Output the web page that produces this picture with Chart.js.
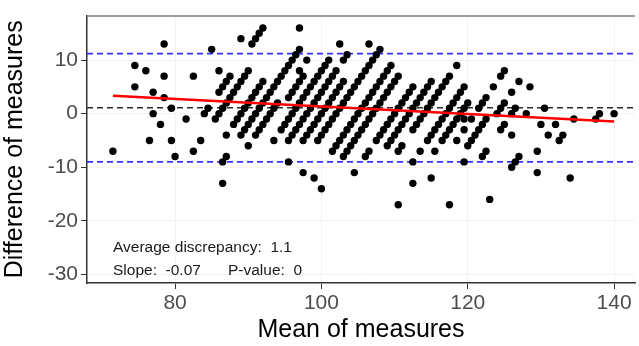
<!DOCTYPE html>
<html>
<head>
<meta charset="utf-8">
<script src="https://cdn.jsdelivr.net/npm/chart.js@4"></script>
<style>
  html, body { margin: 0; padding: 0; background: #ffffff; }
  #c { display: block; }
</style>
</head>
<body>
<canvas id="c" width="639" height="346" style="width:639px;height:346px"></canvas>
<script>
// ---- data: [mean of measures, difference of measures]
const measurePairs = [
  [84,0],[84.5,1],[86,4],[86.5,5],[87,6],[87.5,7],[90.5,13],[91,14],[91.5,15],[92,16],
  [85.5,-1],[86,0],[86.5,1],[87,2],[87.5,3],[88,4],[88.5,5],[89,6],[89.5,7],[90,8],
  [88,-2],[88.5,-1],[89,0],[89.5,1],[90,2],[90.5,3],[91,4],[91.5,5],[92,6],
  [89,-4],[89.5,-3],[90,-2],[90.5,-1],[91,0],[91.5,1],[92,2],[92.5,3],[93,4],[93.5,5],[94,6],[94.5,7],[95,8],[95.5,9],[96,10],[96.5,11],[97,12],
  [91,-4],[91.5,-3],[92,-2],[92.5,-1],[93,0],[93.5,1],[94,2],[97,8],[98,10],
  [95.5,3],[96,4],[96.5,5],[97,6],[97.5,7],
  [94.5,-3],[95,-2],[95.5,-1],[96,0],[96.5,1],[97,2],[97.5,3],[98,4],[98.5,5],[99,6],[99.5,7],[100,8],[100.5,9],[101,10],[102.5,13],
  [95.5,-5],[96,-4],[96.5,-3],[97,-2],[97.5,-1],[98,0],[98.5,1],[99,2],[99.5,3],[100,4],[100.5,5],[101,6],[101.5,7],[102,8],[103,10],[103.5,11],
  [97.5,-5],[98,-4],[98.5,-3],[99,-2],[99.5,-1],[100,0],[100.5,1],[101,2],[101.5,3],[102,4],[102.5,5],[103,6],[106.5,13],
  [99.5,-5],[100,-4],[100.5,-3],[101,-2],[101.5,-1],[102,0],[102.5,1],[103,2],[103.5,3],[104,4],[104.5,5],[105,6],[105.5,7],[106,8],[106.5,9],[107,10],[107.5,11],[108,12],
  [101.5,-7],[102,-6],[102.5,-5],[103,-4],[103.5,-3],[104,-2],[104.5,-1],[105,0],[105.5,1],[106,2],[106.5,3],[107,4],[107.5,5],[108,6],[108.5,7],[109,8],[109.5,9],
  [103,-8],[103.5,-7],[104,-6],[104.5,-5],[105,-4],[105.5,-3],[106,-2],[106.5,-1],[107,0],[107.5,1],[108,2],[108.5,3],[109,4],[109.5,5],[110,6],[110.5,7],
  [106,-8],[106.5,-7],[107.5,-5],[108,-4],[108.5,-3],[109,-2],[109.5,-1],[110,0],[110.5,1],[111,2],[111.5,3],[112,4],[112.5,5],
  [109,-6],[109.5,-5],[110,-4],[110.5,-3],[111,-2],[111.5,-1],[112,0],[112.5,1],[113,2],[113.5,3],[114,4],[114.5,5],[115,6],
  [110.5,-7],[111,-6],[112.5,-3],[113,-2],[113.5,-1],[114,0],[114.5,1],[115,2],[115.5,3],[116,4],[116.5,5],[117,6],[117.5,7],[118.5,9],
  [113.5,-7],[114.5,-5],[115,-4],[115.5,-3],[116,-2],[116.5,-1],[117,0],[117.5,1],[118,2],[118.5,3],[119,4],[119.5,5],
  [116.5,-5],[117,-4],[117.5,-3],[118,-2],[118.5,-1],[119,0],[119.5,1],[120,2],
  [118.5,-5],[119.5,-3],[119.5,-1],[120.5,-1],[121.5,1],[122,2],[122.5,3],[123.5,5],[124.5,7],[125,8],
  [120,-6],[120.5,-5],[121,-4],[121.5,-3],[122,-2],[122.5,-1],
  [124,0],[124.5,1],[125,2],
  [71.5,-7],[74.5,9],[74.5,5],[76,8],[77,4],[77,0],[76.5,-5],[78,-2],[78.5,7],[78.5,13],[78.5,3],
  [79.5,-5],[79.5,1],[80,-8],[81.5,-1],[82.5,7],[82.5,-7],[83.5,-5],[85,12],[86,8],[87,-4],
  [86.5,-9],[87,-8],[86.5,-13],[89,14],[97,16],[90,-6],[93.5,-5],[95.5,-9],[97.5,-11],[99,-12],
  [100,-14],[104.5,-11],[110.5,-17],[112.5,-9],[112.5,-13],[115,-12],[115.5,-7],[117.5,-17],
  [119.5,-9],[122,-8],[122.5,-7],[123,-16],[126,-10],[126.5,-9],[127,-8],[129.5,-11],[129.5,-7],
  [134,-12],[127,6],[126,4],[128.5,5],[126.5,1],[126,0],[128,0],[130.5,1],[130,-2],[132,-2],
  [134.5,-1],[137.5,-1],[138,0],[140,0],[125,-2],[124.5,-3],[126,-4],[131,-4],[133,-4],[132.5,-5]
];

// regression line (start and end)
const regressionMeans = [71.5, 140];
const regressionDiffs = [3.35, -1.47];

// reference lines
const averageDiscrepancy = 1.1;
const upperLimit = 11.2;
const lowerLimit = -9.0;

// axes
const xTickValues = [80, 100, 120, 140];
const yTickValues = [-30, -20, -10, 0, 10];
const xRange = [67.96, 142.86];
const yRange = [-31.6, 18.3];

const annotationLines = [
  { text: 'Average discrepancy:  1.1', x: 113, y: 248 },
  { text: 'Slope:  -0.07', x: 113, y: 271 },
  { text: 'P-value:  0', x: 228, y: 271 }
];

const FONT = '"Liberation Sans", Arial, Helvetica, sans-serif';

const frameAndText = {
  id: 'frameAndText',
  afterDraw(chart) {
    const { ctx, chartArea } = chart;
    ctx.save();
    ctx.strokeStyle = '#7f7f7f';
    ctx.lineWidth = 1.5;
    ctx.beginPath();
    ctx.moveTo(chartArea.left, chartArea.top + 0.5);
    ctx.lineTo(chartArea.right, chartArea.top + 0.5);
    ctx.stroke();
    ctx.fillStyle = '#1a1a1a';
    ctx.font = '15.5px ' + FONT;
    ctx.textBaseline = 'middle';
    ctx.textAlign = 'left';
    annotationLines.forEach(a => ctx.fillText(a.text, a.x, a.y));
    ctx.restore();
  }
};

const hline = (yv, color, width) => ({
  data: [{ x: xRange[0], y: yv }, { x: xRange[1], y: yv }],
  showLine: true, borderColor: color, borderWidth: width, borderDash: [6, 4],
  pointRadius: 0, order: 2
});

new Chart(document.getElementById('c'), {
  type: 'scatter',
  data: {
    datasets: [
      {
        data: regressionMeans.map((m, i) => ({ x: m, y: regressionDiffs[i] })),
        showLine: true, borderColor: '#ff0000', borderWidth: 2.6, pointRadius: 0, order: 0
      },
      {
        data: measurePairs.map(p => ({ x: p[0], y: p[1] })),
        backgroundColor: '#000000', borderColor: '#000000', borderWidth: 0,
        pointRadius: 3.7, order: 1
      },
      hline(averageDiscrepancy, '#2b2b2b', 1.3),
      hline(upperLimit, '#3535ff', 1.6),
      hline(lowerLimit, '#3535ff', 1.6)
    ]
  },
  options: {
    responsive: false,
    animation: false,
    layout: { padding: { top: 11, right: 0, left: 0, bottom: 0 } },
    plugins: { legend: { display: false }, tooltip: { enabled: false } },
    scales: {
      x: {
        type: 'linear', min: xRange[0], max: xRange[1],
        afterBuildTicks: s => { s.ticks = xTickValues.map(v => ({ value: v })); },
        afterFit: s => { s.height = 63; },
        grid: { color: '#f3f3f3', tickColor: '#333333', tickLength: 6, lineWidth: 1 },
        border: { color: '#333333', width: 1.5 },
        ticks: { font: { family: FONT, size: 21 }, color: '#4d4d4d', padding: 2, maxRotation: 0, autoSkip: false },
        title: { display: true, text: 'Mean of measures', color: '#000000',
                 font: { family: FONT, size: 25 }, padding: { top: 0, bottom: 1 } }
      },
      y: {
        type: 'linear', min: yRange[0], max: yRange[1],
        afterBuildTicks: s => { s.ticks = yTickValues.map(v => ({ value: v })); },
        afterFit: s => { s.width = 87; },
        grid: { color: '#f3f3f3', tickColor: '#333333', tickLength: 6, lineWidth: 1 },
        border: { color: '#333333', width: 1.5 },
        ticks: { font: { family: FONT, size: 21 }, color: '#4d4d4d', padding: 3, autoSkip: false },
        title: { display: true, text: 'Difference of measures', color: '#000000',
                 font: { family: FONT, size: 25 }, padding: { top: 0, bottom: 6 } }
      }
    }
  },
  plugins: [frameAndText]
});
</script>
</body>
</html>
